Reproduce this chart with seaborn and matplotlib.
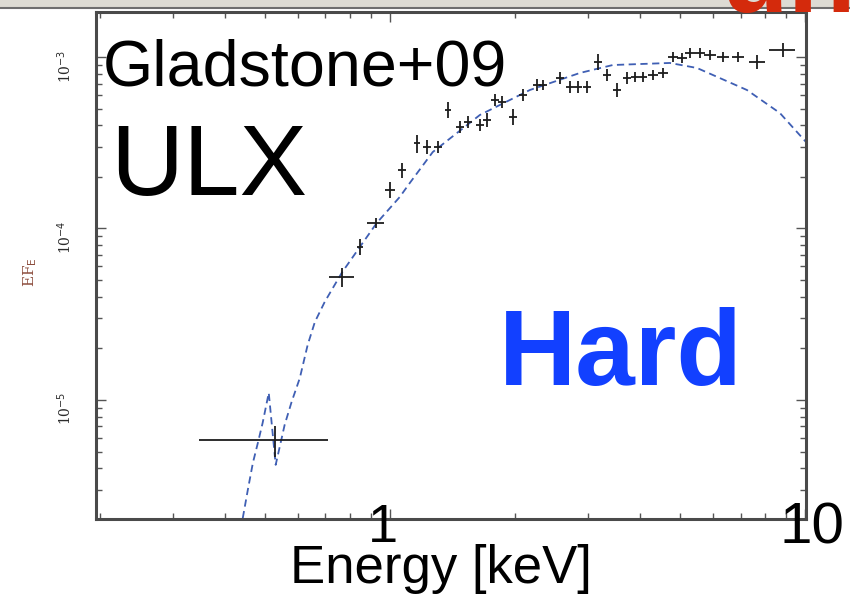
import matplotlib
matplotlib.use("Agg")
import matplotlib.pyplot as plt
from matplotlib.patches import Rectangle
from matplotlib.lines import Line2D
from matplotlib.ticker import LogLocator, NullFormatter
import seaborn as sns
import numpy as np

# Best-fitting absorbed model (keV, EF_E)
model_energy = [0.437, 0.442, 0.455, 0.468, 0.481, 0.494, 0.511, 0.531, 0.558, 0.580,
                0.607, 0.634, 0.660, 0.697, 0.766, 0.847, 0.930, 1.057, 1.117, 1.269,
                1.648, 2.175, 2.870, 3.446, 4.728, 5.494, 7.249, 8.705, 10.11]
model_flux = [1.75e-6, 2.02e-6, 2.99e-6, 4.30e-6, 5.61e-6, 7.35e-6, 1.10e-5, 4.18e-6,
              7.14e-6, 9.73e-6, 1.34e-5, 2.09e-5, 2.85e-5, 3.73e-5, 5.51e-5, 7.80e-5,
              1.076e-4, 1.527e-4, 1.84e-4, 2.79e-4, 4.59e-4, 6.42e-4, 8.07e-4, 8.98e-4,
              9.23e-4, 8.63e-4, 6.42e-4, 4.71e-4, 3.15e-4]

# Unfolded spectrum: bin centre, half bin width, EF_E and its error
energy = [0.528, 0.766, 0.925, 0.847, 1.000, 1.069, 1.162, 1.228, 1.305, 1.380,
          1.475, 1.542, 1.648, 1.713, 1.791, 1.862, 1.979, 2.092, 2.261, 2.337,
          2.568, 2.715, 2.838, 2.984, 3.171, 3.334, 3.524, 3.724, 3.894, 4.070,
          4.300, 4.548, 4.810, 5.053, 5.284, 5.585, 5.903, 6.345, 6.896, 7.661, 8.851]
energy_err = [0.180, 0.053, 0.044, 0.014, 0.028, 0.024, 0.019, 0.027, 0.029, 0.023,
              0.033, 0.034, 0.037, 0.038, 0.040, 0.041, 0.044, 0.046, 0.050, 0.052,
              0.057, 0.060, 0.063, 0.066, 0.070, 0.074, 0.078, 0.083, 0.086, 0.090,
              0.119, 0.126, 0.133, 0.140, 0.147, 0.155, 0.197, 0.211, 0.230, 0.340, 0.639]
flux = [5.85e-6, 5.21e-5, 1.076e-4, 7.80e-5, 1.676e-4, 2.19e-4, 3.15e-4, 2.99e-4, 2.99e-4, 4.91e-4,
        3.91e-4, 4.18e-4, 4.01e-4, 4.29e-4, 5.61e-4, 5.47e-4, 4.47e-4, 6.00e-4, 6.87e-4, 6.87e-4,
        7.54e-4, 6.68e-4, 6.68e-4, 6.68e-4, 9.35e-4, 7.85e-4, 6.42e-4, 7.54e-4, 7.64e-4, 7.64e-4,
        7.85e-4, 8.07e-4, 1.00e-3, 9.87e-4, 1.055e-3, 1.055e-3, 1.027e-3, 1.00e-3, 1.00e-3, 9.35e-4, 1.098e-3]
flux_err = [1.2e-6, 0.63e-5, 0.72e-5, 0.84e-5, 1.8e-5, 2.1e-5, 3.8e-5, 2.8e-5, 2.4e-5, 5.3e-5,
            3.2e-5, 3.4e-5, 3.2e-5, 4.0e-5, 4.5e-5, 4.4e-5, 4.8e-5, 4.8e-5, 5.5e-5, 4.6e-5,
            6.1e-5, 5.4e-5, 5.4e-5, 5.4e-5, 1.0e-4, 6.3e-5, 6.0e-5, 6.1e-5, 5.1e-5, 5.1e-5,
            5.3e-5, 5.4e-5, 6.7e-5, 6.6e-5, 7.1e-5, 7.1e-5, 6.9e-5, 6.7e-5, 6.7e-5, 8.8e-5, 1.03e-4]

y_ticks = [1e-5, 1e-4, 1e-3]
y_tick_labels = ["10$^{-5}$", "10$^{-4}$", "10$^{-3}$"]

sns.set_theme(style="ticks")
plt.rcParams["font.family"] = ["Liberation Sans", "DejaVu Sans"]

W, H = 850, 595
fig = plt.figure(figsize=(W / 100, H / 100), dpi=100)
fig.patch.set_facecolor("white")


def fx(px):
    return px / W


def fy(py):
    return 1 - py / H


ax = fig.add_axes([fx(96), fy(519), fx(806) - fx(96), fy(12) - fy(519)])
ax.set_facecolor("white")
ax.set_xscale("log")
ax.set_yscale("log")
ax.set_xlim(0.196, 10.06)
ax.set_ylim(2.02e-6, 1.83e-3)

sns.lineplot(x=model_energy, y=model_flux, ax=ax, color="#3f5fb4",
             linewidth=1.3, dashes=False, linestyle=(0, (4, 2.5)), zorder=2)
ax.errorbar(energy, flux, xerr=energy_err, yerr=flux_err, fmt="none",
            ecolor="#1c1c1c", elinewidth=1.3, capsize=0, zorder=3)

for s in ax.spines.values():
    s.set_linewidth(2.2)
    s.set_color("#4a4a4a")

ax.xaxis.set_major_locator(LogLocator(base=10))
ax.xaxis.set_minor_locator(LogLocator(base=10, subs=np.arange(2, 10)))
ax.xaxis.set_minor_formatter(NullFormatter())
ax.yaxis.set_minor_locator(LogLocator(base=10, subs=np.arange(2, 10)))
ax.yaxis.set_minor_formatter(NullFormatter())
ax.set_yticks(y_ticks)
ax.set_yticklabels(y_tick_labels, rotation=90, fontsize=10, color="#2a2a2a",
                   family="DejaVu Serif")
ax.tick_params(axis="both", which="both", direction="in", top=True, right=True,
               color="#555555", width=1.0)
ax.tick_params(axis="both", which="major", length=7)
ax.tick_params(axis="both", which="minor", length=4)
ax.tick_params(axis="y", which="major", pad=16)
ax.tick_params(axis="x", labelbottom=False)
ax.set_xlabel("")
ax.set_ylabel("")

fig.text(fx(30), fy(272), r"EF$_\mathrm{E}$", rotation=90, color="#8b4b3b",
         fontsize=11, ha="center", va="center", family="DejaVu Serif")

# slide frame strip at the top edge
fig.add_artist(Rectangle((0, fy(8)), 1, 8 / H, transform=fig.transFigure,
                         facecolor="#dddbd3", edgecolor="none", zorder=5))
fig.add_artist(Line2D([0, 1], [fy(8), fy(8)], transform=fig.transFigure,
                      color="#6e6e6e", linewidth=1.5, zorder=6))
fig.text(fx(720), fy(12), "un", color="#d42a0c", fontsize=80, fontweight="bold",
         ha="left", va="baseline", zorder=7)

# slide annotations
fig.text(fx(103), fy(86), "Gladstone+09", fontsize=46.5, color="black",
         ha="left", va="baseline")
fig.text(fx(110), fy(195), "ULX", fontsize=73, color="black",
         ha="left", va="baseline")
fig.text(fx(499), fy(385), "Hard", fontsize=77, color="#1240ff",
         fontweight="bold", ha="left", va="baseline")
fig.text(fx(383), fy(542), "1", fontsize=39, color="black",
         ha="center", va="baseline")
fig.text(fx(780), fy(543), "10", fontsize=42, color="black",
         ha="left", va="baseline")
fig.text(fx(290), fy(583), "Energy [keV]", fontsize=38, color="black",
         ha="left", va="baseline")

fig.savefig("out.png", dpi=100)
